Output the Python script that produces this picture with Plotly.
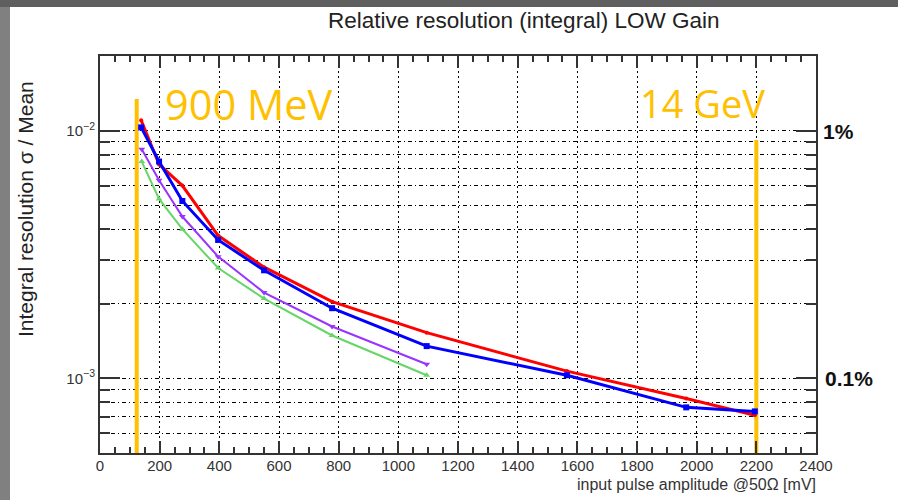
import math
import plotly.graph_objects as go

# ---------------- data ----------------
amp_mv = [138, 198, 276, 396, 550, 778, 1095, 1565, 1965, 2195]
red_res = [0.0110, 0.0073, 0.0060, 0.00377, 0.00281, 0.00204, 0.00153, 0.00107, 0.00083, 0.00071]
blue_res = [0.0103, 0.0075, 0.0052, 0.00362, 0.00273, 0.00192, 0.00135, 0.00103, 0.000764, 0.000736]
amp_short = [140, 198, 276, 396, 550, 778, 1095]
purple_res = [0.0084, 0.0063, 0.0045, 0.0031, 0.00222, 0.00162, 0.00114]
green_res = [0.0075, 0.0053, 0.0040, 0.00279, 0.00210, 0.00149, 0.00103]

marker900_x = [123, 123]
marker900_y = [0.0005, 0.01342]
marker14_x = [2200, 2200]
marker14_y = [0.0005, 0.00917]

y_major = [0.001, 0.01]
y_major_text = ["10<sup>\u22123</sup>", "10<sup>\u22122</sup>"]
y_minor = [6e-4, 7e-4, 8e-4, 9e-4, 2e-3, 3e-3, 4e-3, 5e-3, 6e-3, 7e-3, 8e-3, 9e-3]

ORANGE = "#FFC000"
FONT = "Liberation Sans, Arial, sans-serif"

fig = go.Figure()

for xs, ys in [(marker900_x, marker900_y), (marker14_x, marker14_y)]:
    fig.add_trace(go.Scatter(x=xs, y=ys, mode="lines",
                             line=dict(color=ORANGE, width=4), showlegend=False,
                             hoverinfo="skip"))

fig.add_trace(go.Scatter(x=amp_short, y=green_res, mode="lines+markers",
                         line=dict(color="#66D666", width=2),
                         marker=dict(symbol="triangle-up", size=6, color="#66D666"),
                         showlegend=False))
fig.add_trace(go.Scatter(x=amp_short, y=purple_res, mode="lines+markers",
                         line=dict(color="#9933FF", width=2),
                         marker=dict(symbol="triangle-down", size=6, color="#9933FF"),
                         showlegend=False))
fig.add_trace(go.Scatter(x=amp_mv, y=red_res, mode="lines+markers",
                         line=dict(color="#FF0000", width=3),
                         marker=dict(symbol="circle", size=4, color="#FF0000"),
                         showlegend=False))
fig.add_trace(go.Scatter(x=amp_mv, y=blue_res, mode="lines+markers",
                         line=dict(color="#0000FF", width=3),
                         marker=dict(symbol="square", size=6, color="#0000FF"),
                         showlegend=False))

PW, PH = 716, 397
ML, MT, MB = 100, 56, 47
MR = 898 - ML - PW


def px(xp):
    return (xp - ML) / PW


def py(yp):
    return (MT + PH - yp) / PH


fig.update_layout(
    width=898, height=500,
    margin=dict(l=ML, r=MR, t=MT, b=MB),
    paper_bgcolor="white", plot_bgcolor="white",
    font=dict(family=FONT, color="#333333"),
    showlegend=False,
    xaxis=dict(
        range=[0, 2400], dtick=200, tick0=0,
        ticks="inside", ticklen=12, tickwidth=1.5, tickcolor="#333333",
        showline=True, linecolor="#333333", linewidth=2, mirror="ticks",
        showgrid=True, gridcolor="black", gridwidth=1, griddash="2px,3px",
        zeroline=False, ticklabelstandoff=-2,
        tickfont=dict(size=15, color="#333333", family=FONT),
        minor=dict(dtick=50, ticks="inside", ticklen=6, tickcolor="#333333",
                   showgrid=False),
    ),
    yaxis=dict(
        type="log", range=[math.log10(0.0005), math.log10(0.02)],
        tickmode="array", tickvals=y_major, ticktext=y_major_text,
        ticks="inside", ticklen=20, tickwidth=1.5, tickcolor="#333333",
        showline=True, linecolor="#333333", linewidth=2, mirror="ticks",
        showgrid=True, gridcolor="black", gridwidth=1, griddash="4px,3px,1px,3px",
        zeroline=False,
        tickfont=dict(size=15, color="#333333", family=FONT),
        minor=dict(tickmode="array", tickvals=y_minor, ticks="inside", ticklen=10,
                   tickcolor="#333333", showgrid=True, gridcolor="black",
                   griddash="4px,3px,1px,3px"),
    ),
    shapes=[
        dict(type="rect", xref="paper", yref="paper",
             x0=px(0), x1=px(898), y0=py(7), y1=py(0),
             fillcolor="#5f5f5f", line=dict(width=0)),
        dict(type="rect", xref="paper", yref="paper",
             x0=px(0), x1=px(10), y0=py(500), y1=py(7),
             fillcolor="#808080", line=dict(width=0)),
    ],
    annotations=[
        dict(text="Relative resolution (integral) LOW Gain", xref="paper", yref="paper",
             x=px(523), y=py(20), xanchor="center", yanchor="middle", showarrow=False,
             font=dict(size=22.5, color="#222222", family=FONT)),
        dict(text="Integral resolution \u03c3 / Mean", xref="paper", yref="paper",
             x=px(25), y=py(209), xanchor="center", yanchor="middle", showarrow=False,
             textangle=-90, font=dict(size=21, color="#222222", family=FONT)),
        dict(text="input pulse amplitude @50\u03a9 [mV]", xref="paper", yref="paper",
             x=px(818), y=py(484), xanchor="right", yanchor="middle", showarrow=False,
             font=dict(size=16, color="#333333", family=FONT)),
        dict(text="900 MeV", xref="paper", yref="paper",
             x=px(163), y=py(104), xanchor="left", yanchor="middle", showarrow=False,
             font=dict(size=41.5, color=ORANGE, family="Open Sans, sans-serif")),
        dict(text="14 GeV", xref="paper", yref="paper",
             x=px(638), y=py(103), xanchor="left", yanchor="middle", showarrow=False,
             font=dict(size=38, color=ORANGE, family="Open Sans, sans-serif")),
        dict(text="<b>1%</b>", xref="paper", yref="paper",
             x=px(821), y=py(131), xanchor="left", yanchor="middle", showarrow=False,
             font=dict(size=21, color="#111111", family=FONT)),
        dict(text="<b>0.1%</b>", xref="paper", yref="paper",
             x=px(823), y=py(378), xanchor="left", yanchor="middle", showarrow=False,
             font=dict(size=21, color="#111111", family=FONT)),
    ],
)

fig.write_html("out.html")
